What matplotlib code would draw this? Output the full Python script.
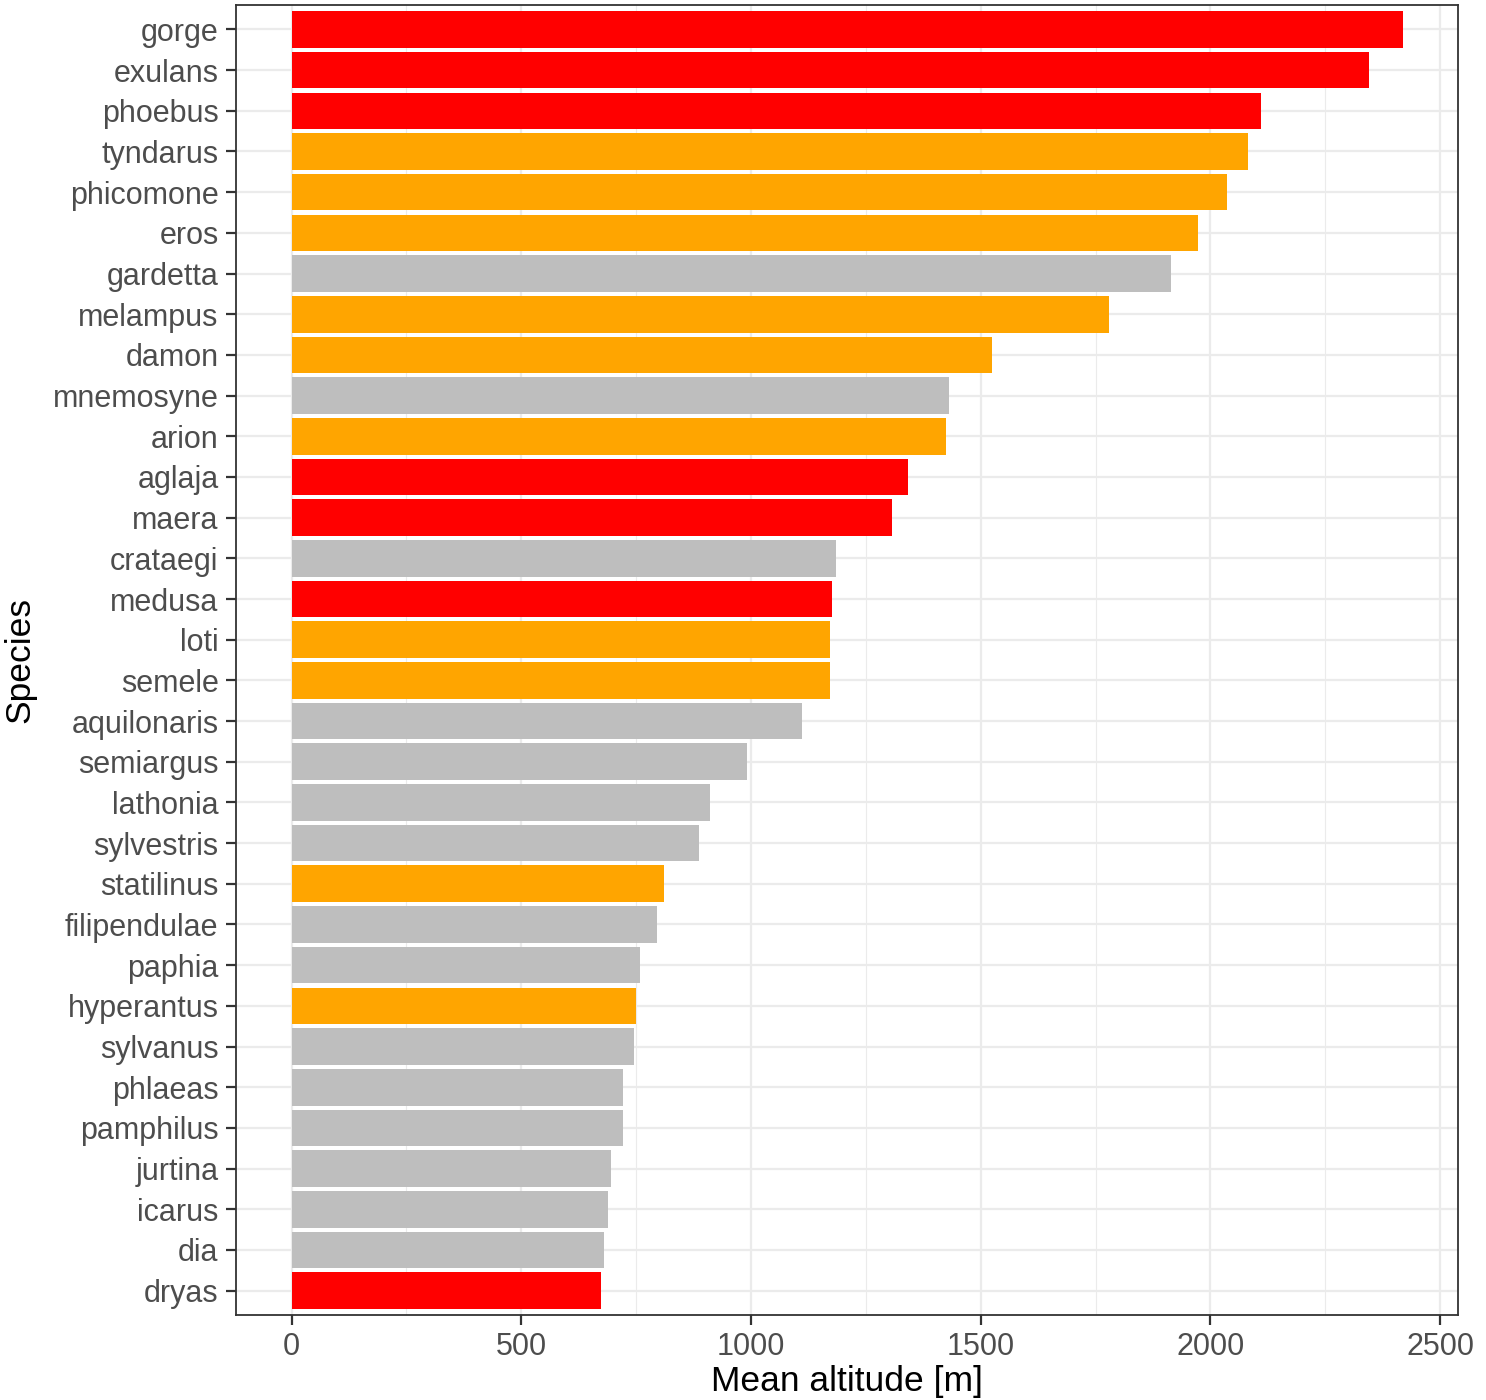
import matplotlib
matplotlib.use("Agg")
import matplotlib.pyplot as plt
from matplotlib.ticker import MultipleLocator

# species ordered top to bottom
species = ["gorge", "exulans", "phoebus", "tyndarus", "phicomone", "eros", "gardetta",
           "melampus", "damon", "mnemosyne", "arion", "aglaja", "maera", "crataegi",
           "medusa", "loti", "semele", "aquilonaris", "semiargus", "lathonia",
           "sylvestris", "statilinus", "filipendulae", "paphia", "hyperantus",
           "sylvanus", "phlaeas", "pamphilus", "jurtina", "icarus", "dia", "dryas"]
altitude = [2418, 2345, 2110, 2082, 2036, 1973, 1914,
            1780, 1525, 1431, 1425, 1342, 1307, 1186,
            1177, 1173, 1171, 1112, 991, 910,
            886, 811, 795, 758, 750,
            745, 722, 722, 695, 689, 680, 674]
group = ["R", "R", "R", "O", "O", "O", "G",
         "O", "O", "G", "O", "R", "R", "G",
         "R", "O", "O", "G", "G", "G",
         "G", "O", "G", "G", "O",
         "G", "G", "G", "G", "G", "G", "R"]
colors = {"R": "#FF0000", "O": "#FFA500", "G": "#BEBEBE"}

plt.rcParams['font.family'] = ['Liberation Sans', 'DejaVu Sans']

fig = plt.figure(figsize=(14.86, 14.0), dpi=100)
ax = fig.add_axes([0.1588, 0.0607, 0.9812 - 0.1588, 0.9964 - 0.0607])

n = len(species)
ypos = list(range(n - 1, -1, -1))
ax.barh(ypos, altitude, height=0.9, color=[colors[g] for g in group], zorder=3)

# axis limits like ggplot expansion
xmax = max(altitude)
ax.set_xlim(-0.05 * xmax, 1.05 * xmax)
ax.set_ylim(-0.6, n - 1 + 0.6)

ax.set_yticks(ypos)
ax.set_yticklabels(species)
ax.xaxis.set_major_locator(MultipleLocator(500))
ax.xaxis.set_minor_locator(MultipleLocator(250))

# grid
ax.grid(which="major", color="#EBEBEB", linewidth=1.6, zorder=0)
ax.grid(which="minor", axis="x", color="#EBEBEB", linewidth=0.8, zorder=0)
ax.set_axisbelow(True)

for s in ax.spines.values():
    s.set_color("#333333")
    s.set_linewidth(1.3)

ax.tick_params(which="major", length=7.5, width=1.6, color="#333333",
               labelsize=22, labelcolor="#4D4D4D", pad=5)
ax.tick_params(which="minor", length=0)

ax.set_xlabel("Mean altitude [m]", fontsize=25.5, color="black", labelpad=2)
ax.set_ylabel("Species", fontsize=25.5, color="black", labelpad=12)

fig.savefig("out.png", dpi=100)
